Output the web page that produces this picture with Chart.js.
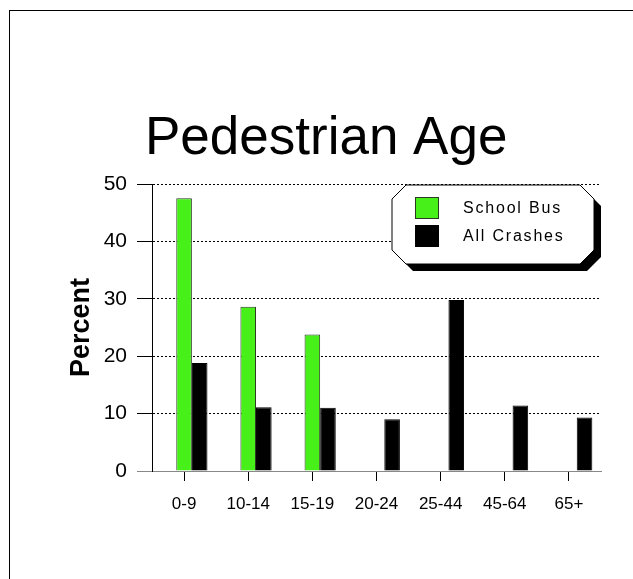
<!DOCTYPE html>
<html>
<head>
<meta charset="utf-8">
<script src="https://cdn.jsdelivr.net/npm/chart.js@4/dist/chart.umd.min.js"></script>
<style>
    html, body { margin: 0; padding: 0; background: #fff; overflow: hidden; }
    #frame { position: absolute; left: 9px; top: 10px; width: 700px; height: 700px; border: 1px solid #000; }
    #wrap { position: absolute; left: 0; top: 0; width: 633px; height: 579px; }
</style>
</head>
<body>
<div id="frame"></div>
<div id="wrap"><canvas id="ageChart" width="633" height="579"></canvas></div>
<script>
// 數據
const ageGroups = ['0-9', '10-14', '15-19', '20-24', '25-44', '45-64', '65+'];
const schoolBus = [47.5, 28.6, 23.8, 0, 0, 0, 0];
const allCrashes = [18.8, 11.1, 11.0, 9.0, 29.8, 11.4, 9.3];
const yTicks = [0, 10, 20, 30, 40, 50];
const chartTitle = 'Pedestrian Age';

const FONT = '"Liberation Sans", Arial, sans-serif';

// 標題
const titlePlugin = {
    id: 'bigTitle',
    afterDraw(chart) {
        const ctx = chart.ctx;
        ctx.save();
        ctx.font = '53px ' + FONT;
        ctx.fillStyle = '#000';
        ctx.textBaseline = 'alphabetic';
        ctx.textAlign = 'left';
        ctx.fillText(chartTitle, 145, 154);
        ctx.restore();
    }
};

// 八角形圖例（帶陰影）
const octLegend = {
    id: 'octLegend',
    afterDraw(chart) {
        const ctx = chart.ctx;
        const x0 = 392, y0 = 185, x1 = 594, y1 = 264, c = 14, sh = 7;
        const path = (dx, dy) => {
            ctx.beginPath();
            ctx.moveTo(x0 + c + dx, y0 + dy);
            ctx.lineTo(x1 - c + dx, y0 + dy);
            ctx.lineTo(x1 + dx, y0 + c + dy);
            ctx.lineTo(x1 + dx, y1 - c + dy);
            ctx.lineTo(x1 - c + dx, y1 + dy);
            ctx.lineTo(x0 + c + dx, y1 + dy);
            ctx.lineTo(x0 + dx, y1 - c + dy);
            ctx.lineTo(x0 + dx, y0 + c + dy);
            ctx.closePath();
        };
        ctx.save();
        path(sh, sh);
        ctx.fillStyle = '#000';
        ctx.fill();
        path(0, 0);
        ctx.fillStyle = '#fff';
        ctx.fill();
        ctx.lineWidth = 1;
        ctx.strokeStyle = '#000';
        ctx.stroke();

        const items = chart.data.datasets.filter(d => d.label);
        items.forEach((ds, i) => {
            const sy = 197 + i * 28;
            ctx.fillStyle = ds.backgroundColor;
            ctx.fillRect(415, sy, 24, 22);
            ctx.strokeStyle = ds.borderColor;
            ctx.strokeRect(415.5, sy + 0.5, 23, 21);
            ctx.fillStyle = '#000';
            ctx.font = '16px ' + FONT;
            if ('letterSpacing' in ctx) ctx.letterSpacing = '1.8px';
            ctx.textBaseline = 'middle';
            ctx.fillText(ds.label, 463, sy + 12);
            if ('letterSpacing' in ctx) ctx.letterSpacing = '0px';
        });
        ctx.restore();
    }
};

document.addEventListener('DOMContentLoaded', function() {
    const ctx = document.getElementById('ageChart');

    new Chart(ctx, {
        type: 'bar',
        data: {
            labels: ageGroups,
            datasets: [{
                // 佔位，讓綠色柱對準刻度
                label: '',
                data: ageGroups.map(() => 0),
                backgroundColor: 'rgba(0,0,0,0)',
                borderWidth: 0
            }, {
                label: 'School Bus',
                data: schoolBus,
                backgroundColor: '#46f018',
                borderColor: '#2a3a22',
                borderWidth: 1
            }, {
                label: 'All Crashes',
                data: allCrashes,
                backgroundColor: '#000',
                borderColor: '#000',
                borderWidth: 1
            }]
        },
        options: {
            responsive: false,
            animation: false,
            layout: {
                padding: { left: 61, right: 32, top: 184, bottom: 68 }
            },
            datasets: {
                bar: { categoryPercentage: 0.73, barPercentage: 1 }
            },
            plugins: {
                legend: { display: false },
                title: { display: false },
                tooltip: { enabled: false }
            },
            scales: {
                x: {
                    afterFit(scale) { scale.height = 40; },
                    grid: {
                        drawOnChartArea: false,
                        offset: false,
                        tickLength: 10,
                        color: '#000'
                    },
                    border: { color: '#888', width: 1 },
                    ticks: {
                        color: '#000',
                        padding: 13,
                        maxRotation: 0,
                        font: { family: FONT, size: 17 }
                    }
                },
                y: {
                    min: yTicks[0],
                    max: yTicks[yTicks.length - 1],
                    afterFit(scale) { scale.width = 91; },
                    afterBuildTicks(scale) {
                        scale.ticks = yTicks.map(v => ({ value: v }));
                    },
                    grid: {
                        tickLength: 15,
                        color: c => (c.tick && c.tick.value === 0 ? '#888' : '#000'),
                        lineWidth: 1
                    },
                    border: {
                        color: '#000',
                        width: 1,
                        dash: c => (c.tick && c.tick.value === 0 ? [] : [2, 2])
                    },
                    ticks: {
                        color: '#000',
                        padding: 10,
                        font: { family: FONT, size: 21 }
                    },
                    title: {
                        display: true,
                        text: 'Percent',
                        color: '#000',
                        padding: { top: 4, bottom: 4 },
                        font: { family: FONT, size: 27, weight: 'bold' }
                    }
                }
            }
        },
        plugins: [titlePlugin, octLegend]
    });
});
</script>
</body>
</html>
